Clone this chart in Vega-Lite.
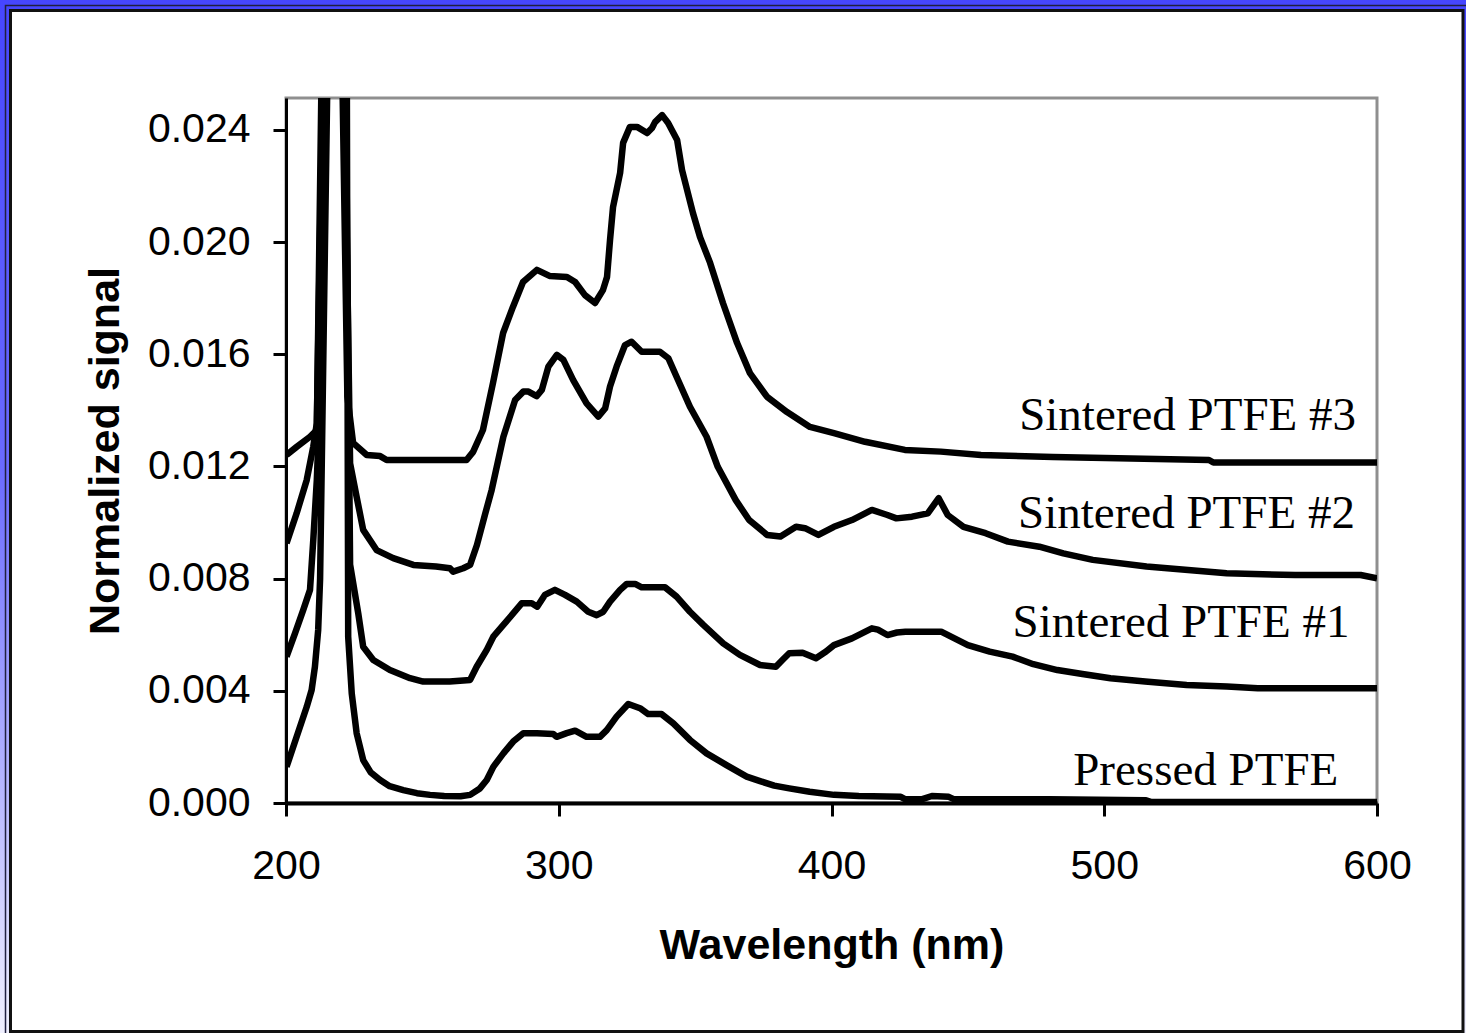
{
  "$schema": "https://vega.github.io/schema/vega-lite/v6.json",
  "width": 1091,
  "height": 705,
  "autosize": {"type": "none"},
  "padding": {"left": 286, "top": 98, "right": 89, "bottom": 230},
  "background": "white",
  "config": {
    "view": {"stroke": "#8f8f8f", "strokeWidth": 3},
    "font": "Liberation Sans",
    "axis": {
      "domainColor": "black", "tickColor": "black", "tickWidth": 3, "domainWidth": 3, "tickSize": 13,
      "labelColor": "black", "titleColor": "black", "labelFont": "Liberation Sans", "titleFont": "Liberation Sans",
      "labelFontSize": 41, "titleFontSize": 43, "titleFontWeight": "bold", "grid": false, "zindex": 1
    }
  },
  "layer": [
    {
      "data": {"values": [{}]},
      "mark": {"type": "rect", "filled": false, "clip": false, "strokeWidth": 18,
        "stroke": {"gradient": "linear", "x1": 0, "y1": 0, "x2": 0, "y2": 1,
          "stops": [{"offset": 0, "color": "#4646ff"}, {"offset": 0.45, "color": "#6a6aff"}, {"offset": 1, "color": "#f2f2ff"}]}},
      "encoding": {
        "x": {"datum": 95.14, "type": "quantitative"},
        "x2": {"datum": 635.2},
        "y": {"datum": 0.028634, "type": "quantitative"},
        "y2": {"datum": -0.008451}
      }
    },
    {
      "data": {"values": [{}]},
      "mark": {"type": "rect", "filled": false, "clip": false, "strokeWidth": 1.5, "stroke": "#202040"},
      "encoding": {
        "x": {"datum": 97.16, "type": "quantitative"},
        "x2": {"datum": 640},
        "y": {"datum": 0.028438, "type": "quantitative"},
        "y2": {"datum": -0.0095}
      }
    },
    {
      "data": {"values": [{}]},
      "mark": {"type": "rect", "filled": false, "clip": false, "strokeWidth": 3, "stroke": "#111111"},
      "encoding": {
        "x": {"datum": 98.99, "type": "quantitative"},
        "x2": {"datum": 631.53},
        "y": {"datum": 0.02826, "type": "quantitative"},
        "y2": {"datum": -0.008148}
      }
    },
    {
      "data": {"values": [
        {"sample": "Pressed PTFE", "wavelength": 200.2, "signal": 0.00129},
        {"sample": "Pressed PTFE", "wavelength": 203.9, "signal": 0.00236},
        {"sample": "Pressed PTFE", "wavelength": 207.6, "signal": 0.00343},
        {"sample": "Pressed PTFE", "wavelength": 209.4, "signal": 0.00403},
        {"sample": "Pressed PTFE", "wavelength": 210.6, "signal": 0.00486},
        {"sample": "Pressed PTFE", "wavelength": 211.8, "signal": 0.00617},
        {"sample": "Pressed PTFE", "wavelength": 212.5, "signal": 0.008},
        {"sample": "Pressed PTFE", "wavelength": 215.8, "signal": 0.03},
        {"sample": "Pressed PTFE", "wavelength": 218, "signal": 0.2},
        {"sample": "Pressed PTFE", "wavelength": 222.2, "signal": 0.03},
        {"sample": "Pressed PTFE", "wavelength": 222.8, "signal": 0.00593},
        {"sample": "Pressed PTFE", "wavelength": 224.1, "signal": 0.00391},
        {"sample": "Pressed PTFE", "wavelength": 225.9, "signal": 0.00249},
        {"sample": "Pressed PTFE", "wavelength": 228.3, "signal": 0.00153},
        {"sample": "Pressed PTFE", "wavelength": 231, "signal": 0.0011},
        {"sample": "Pressed PTFE", "wavelength": 234.5, "signal": 0.00082},
        {"sample": "Pressed PTFE", "wavelength": 238, "signal": 0.0006},
        {"sample": "Pressed PTFE", "wavelength": 243, "signal": 0.00046},
        {"sample": "Pressed PTFE", "wavelength": 248, "signal": 0.00035},
        {"sample": "Pressed PTFE", "wavelength": 252.8, "signal": 0.00029},
        {"sample": "Pressed PTFE", "wavelength": 258, "signal": 0.00025},
        {"sample": "Pressed PTFE", "wavelength": 264, "signal": 0.00024},
        {"sample": "Pressed PTFE", "wavelength": 267.5, "signal": 0.00029},
        {"sample": "Pressed PTFE", "wavelength": 271.1, "signal": 0.00052},
        {"sample": "Pressed PTFE", "wavelength": 273.6, "signal": 0.00082},
        {"sample": "Pressed PTFE", "wavelength": 276, "signal": 0.00129},
        {"sample": "Pressed PTFE", "wavelength": 279.7, "signal": 0.00177},
        {"sample": "Pressed PTFE", "wavelength": 283.3, "signal": 0.00219},
        {"sample": "Pressed PTFE", "wavelength": 287, "signal": 0.00249},
        {"sample": "Pressed PTFE", "wavelength": 292, "signal": 0.00249},
        {"sample": "Pressed PTFE", "wavelength": 298, "signal": 0.00246},
        {"sample": "Pressed PTFE", "wavelength": 299.2, "signal": 0.00236},
        {"sample": "Pressed PTFE", "wavelength": 302.9, "signal": 0.00249},
        {"sample": "Pressed PTFE", "wavelength": 306, "signal": 0.00258},
        {"sample": "Pressed PTFE", "wavelength": 310.2, "signal": 0.00236},
        {"sample": "Pressed PTFE", "wavelength": 315.1, "signal": 0.00236},
        {"sample": "Pressed PTFE", "wavelength": 317.6, "signal": 0.0026},
        {"sample": "Pressed PTFE", "wavelength": 321.2, "signal": 0.00308},
        {"sample": "Pressed PTFE", "wavelength": 325.5, "signal": 0.00353},
        {"sample": "Pressed PTFE", "wavelength": 329.8, "signal": 0.00338},
        {"sample": "Pressed PTFE", "wavelength": 332.8, "signal": 0.00317},
        {"sample": "Pressed PTFE", "wavelength": 337.7, "signal": 0.00317},
        {"sample": "Pressed PTFE", "wavelength": 342, "signal": 0.00284},
        {"sample": "Pressed PTFE", "wavelength": 348.1, "signal": 0.00225},
        {"sample": "Pressed PTFE", "wavelength": 354.2, "signal": 0.00177},
        {"sample": "Pressed PTFE", "wavelength": 361.5, "signal": 0.00135},
        {"sample": "Pressed PTFE", "wavelength": 368.9, "signal": 0.00094},
        {"sample": "Pressed PTFE", "wavelength": 373.8, "signal": 0.00078},
        {"sample": "Pressed PTFE", "wavelength": 379, "signal": 0.00062},
        {"sample": "Pressed PTFE", "wavelength": 384.5, "signal": 0.00052},
        {"sample": "Pressed PTFE", "wavelength": 392, "signal": 0.0004},
        {"sample": "Pressed PTFE", "wavelength": 400.9, "signal": 0.00029},
        {"sample": "Pressed PTFE", "wavelength": 410, "signal": 0.00025},
        {"sample": "Pressed PTFE", "wavelength": 425.4, "signal": 0.00022},
        {"sample": "Pressed PTFE", "wavelength": 427.1, "signal": 0.00013},
        {"sample": "Pressed PTFE", "wavelength": 433, "signal": 0.00013},
        {"sample": "Pressed PTFE", "wavelength": 436.8, "signal": 0.00025},
        {"sample": "Pressed PTFE", "wavelength": 443, "signal": 0.00022},
        {"sample": "Pressed PTFE", "wavelength": 445, "signal": 0.00013},
        {"sample": "Pressed PTFE", "wavelength": 480, "signal": 0.00013},
        {"sample": "Pressed PTFE", "wavelength": 515.3, "signal": 0.0001},
        {"sample": "Pressed PTFE", "wavelength": 517, "signal": 0.00004},
        {"sample": "Pressed PTFE", "wavelength": 600, "signal": 0.00004},

        {"sample": "Sintered PTFE #1", "wavelength": 200.2, "signal": 0.00522},
        {"sample": "Sintered PTFE #1", "wavelength": 203.3, "signal": 0.00605},
        {"sample": "Sintered PTFE #1", "wavelength": 206.3, "signal": 0.00688},
        {"sample": "Sintered PTFE #1", "wavelength": 208.8, "signal": 0.0076},
        {"sample": "Sintered PTFE #1", "wavelength": 210, "signal": 0.00938},
        {"sample": "Sintered PTFE #1", "wavelength": 211.3, "signal": 0.01152},
        {"sample": "Sintered PTFE #1", "wavelength": 212.3, "signal": 0.014},
        {"sample": "Sintered PTFE #1", "wavelength": 214.9, "signal": 0.03},
        {"sample": "Sintered PTFE #1", "wavelength": 218, "signal": 0.2},
        {"sample": "Sintered PTFE #1", "wavelength": 221.5, "signal": 0.03},
        {"sample": "Sintered PTFE #1", "wavelength": 223.5, "signal": 0.0085},
        {"sample": "Sintered PTFE #1", "wavelength": 226.5, "signal": 0.00676},
        {"sample": "Sintered PTFE #1", "wavelength": 228.3, "signal": 0.00557},
        {"sample": "Sintered PTFE #1", "wavelength": 232, "signal": 0.0051},
        {"sample": "Sintered PTFE #1", "wavelength": 238.1, "signal": 0.00474},
        {"sample": "Sintered PTFE #1", "wavelength": 245.5, "signal": 0.00445},
        {"sample": "Sintered PTFE #1", "wavelength": 250.3, "signal": 0.00433},
        {"sample": "Sintered PTFE #1", "wavelength": 260, "signal": 0.00433},
        {"sample": "Sintered PTFE #1", "wavelength": 267.5, "signal": 0.00439},
        {"sample": "Sintered PTFE #1", "wavelength": 269.9, "signal": 0.00486},
        {"sample": "Sintered PTFE #1", "wavelength": 273.6, "signal": 0.00546},
        {"sample": "Sintered PTFE #1", "wavelength": 276, "signal": 0.00593},
        {"sample": "Sintered PTFE #1", "wavelength": 279.7, "signal": 0.00635},
        {"sample": "Sintered PTFE #1", "wavelength": 283.3, "signal": 0.00676},
        {"sample": "Sintered PTFE #1", "wavelength": 286.4, "signal": 0.00712},
        {"sample": "Sintered PTFE #1", "wavelength": 290.1, "signal": 0.00712},
        {"sample": "Sintered PTFE #1", "wavelength": 292.1, "signal": 0.007},
        {"sample": "Sintered PTFE #1", "wavelength": 294.9, "signal": 0.00742},
        {"sample": "Sintered PTFE #1", "wavelength": 298.6, "signal": 0.0076},
        {"sample": "Sintered PTFE #1", "wavelength": 302.3, "signal": 0.00742},
        {"sample": "Sintered PTFE #1", "wavelength": 306.6, "signal": 0.00718},
        {"sample": "Sintered PTFE #1", "wavelength": 310.8, "signal": 0.00682},
        {"sample": "Sintered PTFE #1", "wavelength": 313.9, "signal": 0.0067},
        {"sample": "Sintered PTFE #1", "wavelength": 316.3, "signal": 0.00682},
        {"sample": "Sintered PTFE #1", "wavelength": 318.8, "signal": 0.00718},
        {"sample": "Sintered PTFE #1", "wavelength": 322.5, "signal": 0.0076},
        {"sample": "Sintered PTFE #1", "wavelength": 324.9, "signal": 0.00781},
        {"sample": "Sintered PTFE #1", "wavelength": 328, "signal": 0.00781},
        {"sample": "Sintered PTFE #1", "wavelength": 330.4, "signal": 0.00769},
        {"sample": "Sintered PTFE #1", "wavelength": 339, "signal": 0.00769},
        {"sample": "Sintered PTFE #1", "wavelength": 343.2, "signal": 0.00736},
        {"sample": "Sintered PTFE #1", "wavelength": 348.1, "signal": 0.00682},
        {"sample": "Sintered PTFE #1", "wavelength": 353, "signal": 0.00635},
        {"sample": "Sintered PTFE #1", "wavelength": 360.3, "signal": 0.00569},
        {"sample": "Sintered PTFE #1", "wavelength": 366.4, "signal": 0.00528},
        {"sample": "Sintered PTFE #1", "wavelength": 373.8, "signal": 0.00492},
        {"sample": "Sintered PTFE #1", "wavelength": 379.6, "signal": 0.00486},
        {"sample": "Sintered PTFE #1", "wavelength": 382, "signal": 0.0051},
        {"sample": "Sintered PTFE #1", "wavelength": 384.5, "signal": 0.00534},
        {"sample": "Sintered PTFE #1", "wavelength": 389.4, "signal": 0.00536},
        {"sample": "Sintered PTFE #1", "wavelength": 394.3, "signal": 0.00516},
        {"sample": "Sintered PTFE #1", "wavelength": 398, "signal": 0.0054},
        {"sample": "Sintered PTFE #1", "wavelength": 400.9, "signal": 0.00563},
        {"sample": "Sintered PTFE #1", "wavelength": 407.5, "signal": 0.00587},
        {"sample": "Sintered PTFE #1", "wavelength": 414.8, "signal": 0.00623},
        {"sample": "Sintered PTFE #1", "wavelength": 417, "signal": 0.00618},
        {"sample": "Sintered PTFE #1", "wavelength": 420.5, "signal": 0.00599},
        {"sample": "Sintered PTFE #1", "wavelength": 424, "signal": 0.00608},
        {"sample": "Sintered PTFE #1", "wavelength": 427.1, "signal": 0.00611},
        {"sample": "Sintered PTFE #1", "wavelength": 440.2, "signal": 0.00611},
        {"sample": "Sintered PTFE #1", "wavelength": 450, "signal": 0.00563},
        {"sample": "Sintered PTFE #1", "wavelength": 458, "signal": 0.0054},
        {"sample": "Sintered PTFE #1", "wavelength": 466.4, "signal": 0.00522},
        {"sample": "Sintered PTFE #1", "wavelength": 474, "signal": 0.00495},
        {"sample": "Sintered PTFE #1", "wavelength": 482.8, "signal": 0.00474},
        {"sample": "Sintered PTFE #1", "wavelength": 492, "signal": 0.0046},
        {"sample": "Sintered PTFE #1", "wavelength": 502.3, "signal": 0.00445},
        {"sample": "Sintered PTFE #1", "wavelength": 515, "signal": 0.00433},
        {"sample": "Sintered PTFE #1", "wavelength": 530.2, "signal": 0.00421},
        {"sample": "Sintered PTFE #1", "wavelength": 545, "signal": 0.00415},
        {"sample": "Sintered PTFE #1", "wavelength": 556.3, "signal": 0.00409},
        {"sample": "Sintered PTFE #1", "wavelength": 600, "signal": 0.00409},

        {"sample": "Sintered PTFE #2", "wavelength": 200.2, "signal": 0.00926},
        {"sample": "Sintered PTFE #2", "wavelength": 203.9, "signal": 0.01033},
        {"sample": "Sintered PTFE #2", "wavelength": 207.6, "signal": 0.01152},
        {"sample": "Sintered PTFE #2", "wavelength": 210, "signal": 0.01271},
        {"sample": "Sintered PTFE #2", "wavelength": 211.3, "signal": 0.01354},
        {"sample": "Sintered PTFE #2", "wavelength": 214.2, "signal": 0.03},
        {"sample": "Sintered PTFE #2", "wavelength": 218, "signal": 0.2},
        {"sample": "Sintered PTFE #2", "wavelength": 220.8, "signal": 0.03},
        {"sample": "Sintered PTFE #2", "wavelength": 223.5, "signal": 0.01211},
        {"sample": "Sintered PTFE #2", "wavelength": 225.9, "signal": 0.01092},
        {"sample": "Sintered PTFE #2", "wavelength": 228.3, "signal": 0.00974},
        {"sample": "Sintered PTFE #2", "wavelength": 233.2, "signal": 0.00902},
        {"sample": "Sintered PTFE #2", "wavelength": 239.3, "signal": 0.00873},
        {"sample": "Sintered PTFE #2", "wavelength": 246.7, "signal": 0.00849},
        {"sample": "Sintered PTFE #2", "wavelength": 255, "signal": 0.00843},
        {"sample": "Sintered PTFE #2", "wavelength": 260.1, "signal": 0.00837},
        {"sample": "Sintered PTFE #2", "wavelength": 261.3, "signal": 0.00825},
        {"sample": "Sintered PTFE #2", "wavelength": 265, "signal": 0.00837},
        {"sample": "Sintered PTFE #2", "wavelength": 267.5, "signal": 0.00849},
        {"sample": "Sintered PTFE #2", "wavelength": 270, "signal": 0.0092},
        {"sample": "Sintered PTFE #2", "wavelength": 273, "signal": 0.0103},
        {"sample": "Sintered PTFE #2", "wavelength": 275.4, "signal": 0.01116},
        {"sample": "Sintered PTFE #2", "wavelength": 279.7, "signal": 0.01306},
        {"sample": "Sintered PTFE #2", "wavelength": 284, "signal": 0.01437},
        {"sample": "Sintered PTFE #2", "wavelength": 287, "signal": 0.01467},
        {"sample": "Sintered PTFE #2", "wavelength": 288.9, "signal": 0.01467},
        {"sample": "Sintered PTFE #2", "wavelength": 291.9, "signal": 0.01451},
        {"sample": "Sintered PTFE #2", "wavelength": 293.8, "signal": 0.01473},
        {"sample": "Sintered PTFE #2", "wavelength": 296.2, "signal": 0.01556},
        {"sample": "Sintered PTFE #2", "wavelength": 299.3, "signal": 0.01598},
        {"sample": "Sintered PTFE #2", "wavelength": 301.7, "signal": 0.0158},
        {"sample": "Sintered PTFE #2", "wavelength": 305.3, "signal": 0.01508},
        {"sample": "Sintered PTFE #2", "wavelength": 310.2, "signal": 0.01425},
        {"sample": "Sintered PTFE #2", "wavelength": 314.5, "signal": 0.01378},
        {"sample": "Sintered PTFE #2", "wavelength": 317, "signal": 0.01407},
        {"sample": "Sintered PTFE #2", "wavelength": 318.8, "signal": 0.01485},
        {"sample": "Sintered PTFE #2", "wavelength": 321.2, "signal": 0.01556},
        {"sample": "Sintered PTFE #2", "wavelength": 324.3, "signal": 0.01633},
        {"sample": "Sintered PTFE #2", "wavelength": 326.7, "signal": 0.01645},
        {"sample": "Sintered PTFE #2", "wavelength": 330.4, "signal": 0.01609},
        {"sample": "Sintered PTFE #2", "wavelength": 337.1, "signal": 0.01609},
        {"sample": "Sintered PTFE #2", "wavelength": 340.2, "signal": 0.01586},
        {"sample": "Sintered PTFE #2", "wavelength": 343.2, "signal": 0.0152},
        {"sample": "Sintered PTFE #2", "wavelength": 348.1, "signal": 0.01413},
        {"sample": "Sintered PTFE #2", "wavelength": 354.2, "signal": 0.01306},
        {"sample": "Sintered PTFE #2", "wavelength": 358.3, "signal": 0.01199},
        {"sample": "Sintered PTFE #2", "wavelength": 364.9, "signal": 0.0108},
        {"sample": "Sintered PTFE #2", "wavelength": 369.8, "signal": 0.01009},
        {"sample": "Sintered PTFE #2", "wavelength": 376.4, "signal": 0.00956},
        {"sample": "Sintered PTFE #2", "wavelength": 381.3, "signal": 0.0095},
        {"sample": "Sintered PTFE #2", "wavelength": 387, "signal": 0.00985},
        {"sample": "Sintered PTFE #2", "wavelength": 390.3, "signal": 0.0098},
        {"sample": "Sintered PTFE #2", "wavelength": 395.2, "signal": 0.00956},
        {"sample": "Sintered PTFE #2", "wavelength": 400.9, "signal": 0.00985},
        {"sample": "Sintered PTFE #2", "wavelength": 407.5, "signal": 0.01009},
        {"sample": "Sintered PTFE #2", "wavelength": 414.8, "signal": 0.01045},
        {"sample": "Sintered PTFE #2", "wavelength": 420.5, "signal": 0.01027},
        {"sample": "Sintered PTFE #2", "wavelength": 423.8, "signal": 0.01015},
        {"sample": "Sintered PTFE #2", "wavelength": 429.5, "signal": 0.01021},
        {"sample": "Sintered PTFE #2", "wavelength": 435.3, "signal": 0.01033},
        {"sample": "Sintered PTFE #2", "wavelength": 439.3, "signal": 0.01087},
        {"sample": "Sintered PTFE #2", "wavelength": 442.6, "signal": 0.01027},
        {"sample": "Sintered PTFE #2", "wavelength": 448.4, "signal": 0.00985},
        {"sample": "Sintered PTFE #2", "wavelength": 456.5, "signal": 0.00962},
        {"sample": "Sintered PTFE #2", "wavelength": 464.7, "signal": 0.00932},
        {"sample": "Sintered PTFE #2", "wavelength": 476.2, "signal": 0.00914},
        {"sample": "Sintered PTFE #2", "wavelength": 485, "signal": 0.0089},
        {"sample": "Sintered PTFE #2", "wavelength": 495.8, "signal": 0.00867},
        {"sample": "Sintered PTFE #2", "wavelength": 515.5, "signal": 0.00843},
        {"sample": "Sintered PTFE #2", "wavelength": 544.9, "signal": 0.00819},
        {"sample": "Sintered PTFE #2", "wavelength": 570, "signal": 0.00813},
        {"sample": "Sintered PTFE #2", "wavelength": 594, "signal": 0.00813},
        {"sample": "Sintered PTFE #2", "wavelength": 600, "signal": 0.00801},

        {"sample": "Sintered PTFE #3", "wavelength": 200.2, "signal": 0.01241},
        {"sample": "Sintered PTFE #3", "wavelength": 203.9, "signal": 0.0127},
        {"sample": "Sintered PTFE #3", "wavelength": 208.8, "signal": 0.01306},
        {"sample": "Sintered PTFE #3", "wavelength": 211.3, "signal": 0.0133},
        {"sample": "Sintered PTFE #3", "wavelength": 213.6, "signal": 0.03},
        {"sample": "Sintered PTFE #3", "wavelength": 218, "signal": 0.2},
        {"sample": "Sintered PTFE #3", "wavelength": 220, "signal": 0.03},
        {"sample": "Sintered PTFE #3", "wavelength": 222.5, "signal": 0.0145},
        {"sample": "Sintered PTFE #3", "wavelength": 224.6, "signal": 0.01284},
        {"sample": "Sintered PTFE #3", "wavelength": 229.6, "signal": 0.01241},
        {"sample": "Sintered PTFE #3", "wavelength": 234.5, "signal": 0.01237},
        {"sample": "Sintered PTFE #3", "wavelength": 236.9, "signal": 0.01223},
        {"sample": "Sintered PTFE #3", "wavelength": 266.2, "signal": 0.01223},
        {"sample": "Sintered PTFE #3", "wavelength": 268.6, "signal": 0.01252},
        {"sample": "Sintered PTFE #3", "wavelength": 272.2, "signal": 0.0133},
        {"sample": "Sintered PTFE #3", "wavelength": 275.9, "signal": 0.01498},
        {"sample": "Sintered PTFE #3", "wavelength": 279.6, "signal": 0.01676},
        {"sample": "Sintered PTFE #3", "wavelength": 283.2, "signal": 0.01769},
        {"sample": "Sintered PTFE #3", "wavelength": 286.9, "signal": 0.01858},
        {"sample": "Sintered PTFE #3", "wavelength": 292, "signal": 0.01901},
        {"sample": "Sintered PTFE #3", "wavelength": 296.8, "signal": 0.01879},
        {"sample": "Sintered PTFE #3", "wavelength": 303, "signal": 0.01876},
        {"sample": "Sintered PTFE #3", "wavelength": 306, "signal": 0.01858},
        {"sample": "Sintered PTFE #3", "wavelength": 309.6, "signal": 0.01811},
        {"sample": "Sintered PTFE #3", "wavelength": 313.3, "signal": 0.01783},
        {"sample": "Sintered PTFE #3", "wavelength": 316.2, "signal": 0.01829},
        {"sample": "Sintered PTFE #3", "wavelength": 317.7, "signal": 0.01876},
        {"sample": "Sintered PTFE #3", "wavelength": 318.8, "signal": 0.02008},
        {"sample": "Sintered PTFE #3", "wavelength": 319.9, "signal": 0.02125},
        {"sample": "Sintered PTFE #3", "wavelength": 322.5, "signal": 0.02247},
        {"sample": "Sintered PTFE #3", "wavelength": 323.6, "signal": 0.02354},
        {"sample": "Sintered PTFE #3", "wavelength": 326.1, "signal": 0.02411},
        {"sample": "Sintered PTFE #3", "wavelength": 328.7, "signal": 0.02411},
        {"sample": "Sintered PTFE #3", "wavelength": 332.4, "signal": 0.02389},
        {"sample": "Sintered PTFE #3", "wavelength": 334.2, "signal": 0.02407},
        {"sample": "Sintered PTFE #3", "wavelength": 335.3, "signal": 0.02428},
        {"sample": "Sintered PTFE #3", "wavelength": 337.9, "signal": 0.02453},
        {"sample": "Sintered PTFE #3", "wavelength": 340.1, "signal": 0.02425},
        {"sample": "Sintered PTFE #3", "wavelength": 343.4, "signal": 0.02364},
        {"sample": "Sintered PTFE #3", "wavelength": 345.2, "signal": 0.02257},
        {"sample": "Sintered PTFE #3", "wavelength": 349.2, "signal": 0.02104},
        {"sample": "Sintered PTFE #3", "wavelength": 351.8, "signal": 0.02018},
        {"sample": "Sintered PTFE #3", "wavelength": 355.5, "signal": 0.01926},
        {"sample": "Sintered PTFE #3", "wavelength": 360.2, "signal": 0.01783},
        {"sample": "Sintered PTFE #3", "wavelength": 365.4, "signal": 0.0164},
        {"sample": "Sintered PTFE #3", "wavelength": 370.1, "signal": 0.01533},
        {"sample": "Sintered PTFE #3", "wavelength": 376.4, "signal": 0.01448},
        {"sample": "Sintered PTFE #3", "wavelength": 383.7, "signal": 0.01394},
        {"sample": "Sintered PTFE #3", "wavelength": 392.1, "signal": 0.01341},
        {"sample": "Sintered PTFE #3", "wavelength": 400.9, "signal": 0.01319},
        {"sample": "Sintered PTFE #3", "wavelength": 412.3, "signal": 0.01288},
        {"sample": "Sintered PTFE #3", "wavelength": 426.9, "signal": 0.01259},
        {"sample": "Sintered PTFE #3", "wavelength": 440.1, "signal": 0.01253},
        {"sample": "Sintered PTFE #3", "wavelength": 454.8, "signal": 0.01241},
        {"sample": "Sintered PTFE #3", "wavelength": 481.2, "signal": 0.01234},
        {"sample": "Sintered PTFE #3", "wavelength": 538.4, "signal": 0.01223},
        {"sample": "Sintered PTFE #3", "wavelength": 540, "signal": 0.01214},
        {"sample": "Sintered PTFE #3", "wavelength": 600, "signal": 0.01214}
      ]},
      "mark": {"type": "line", "color": "black", "strokeWidth": 6.5, "clip": true, "strokeJoin": "round", "strokeCap": "butt"},
      "encoding": {
        "x": {
          "field": "wavelength", "type": "quantitative",
          "scale": {"domain": [200, 600], "nice": false, "zero": false},
          "axis": {"title": "Wavelength (nm)", "values": [200, 300, 400, 500, 600], "labelPadding": 30, "titlePadding": 38, "domainWidth": 4, "labelFlush": false}
        },
        "y": {
          "field": "signal", "type": "quantitative",
          "scale": {"domain": [0, 0.02514], "nice": false, "zero": false},
          "axis": {"title": "Normalized signal", "values": [0, 0.004, 0.008, 0.012, 0.016, 0.02, 0.024], "format": ".3f", "labelPadding": 23, "titlePadding": 20, "labelFlush": false}
        },
        "detail": {"field": "sample"}
      }
    },
    {
      "data": {"values": [
        {"label": "Sintered PTFE #3", "wavelength": 592.3, "signal": 0.0133},
        {"label": "Sintered PTFE #2", "wavelength": 591.9, "signal": 0.00981},
        {"label": "Sintered PTFE #1", "wavelength": 589.9, "signal": 0.00592},
        {"label": "Pressed PTFE", "wavelength": 585.8, "signal": 0.00064}
      ]},
      "mark": {"type": "text", "font": "Liberation Serif", "fontSize": 47, "align": "right", "baseline": "alphabetic", "color": "black", "clip": false},
      "encoding": {
        "x": {"field": "wavelength", "type": "quantitative"},
        "y": {"field": "signal", "type": "quantitative"},
        "text": {"field": "label"}
      }
    }
  ]
}
